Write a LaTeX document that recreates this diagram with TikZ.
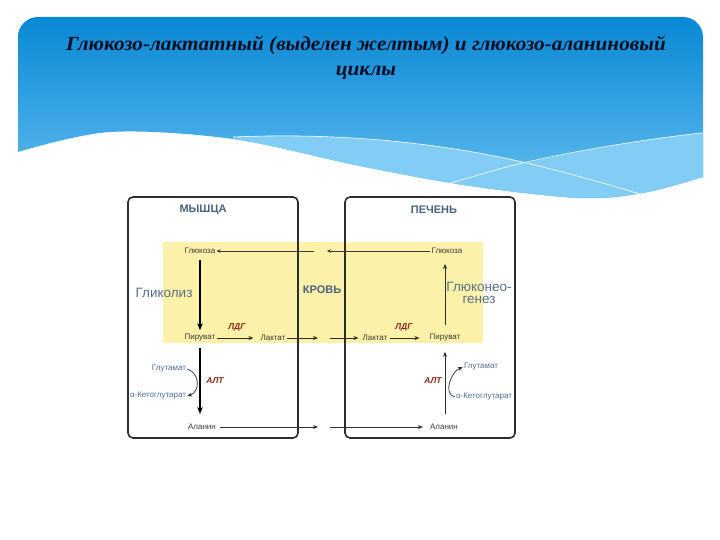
\documentclass[tikz,border=0pt]{standalone}
\usepackage{fontspec}
\setmainfont{Liberation Serif}
\newfontfamily\lsans{Liberation Sans}
\usetikzlibrary{arrows.meta}
\definecolor{blueTop}{RGB}{8,136,212}
\definecolor{blueBot}{RGB}{100,190,240}
\definecolor{bandBlue}{RGB}{130,205,246}
\definecolor{paleYel}{RGB}{251,241,168}
\definecolor{boxGray}{RGB}{45,45,45}
\definecolor{labGray}{RGB}{60,60,60}
\definecolor{labBlue}{RGB}{80,110,150}
\definecolor{hdrBlue}{RGB}{75,98,128}
\definecolor{procBlue}{RGB}{90,110,135}
\definecolor{enzRed}{RGB}{140,40,20}
\definecolor{titleCol}{RGB}{10,15,35}
\begin{document}
\begin{tikzpicture}[x=1pt,y=-1pt,
  lbl/.style={font=\lsans\fontsize{8}{9}\selectfont, text=labGray, inner sep=1pt},
  bluelbl/.style={font=\lsans\fontsize{8}{9}\selectfont, text=labBlue, inner sep=1pt},
  enz/.style={font=\lsans\bfseries\itshape\fontsize{8.5}{10}\selectfont, text=enzRed, inner sep=1pt},
  hdr/.style={font=\lsans\bfseries\fontsize{11}{12}\selectfont, text=hdrBlue, inner sep=1pt},
  proc/.style={font=\lsans\fontsize{13.5}{12.5}\selectfont, text=procBlue, inner sep=1pt, align=center},
  thinarr/.style={draw=labGray, line width=0.5pt, -{Stealth[length=4pt,width=3.5pt]}},
  medarr/.style={draw=boxGray, line width=0.8pt, -{Stealth[length=5pt,width=4pt]}},
  thickarr/.style={draw=black, line width=1.4pt, -{Stealth[length=7pt,width=5.5pt]}},
  cellbox/.style={draw=boxGray, line width=1.6pt, rounded corners=5pt},
  titlefont/.style={font=\bfseries\itshape\fontsize{20}{24}\selectfont, text=titleCol}
]
\useasboundingbox (0,0) rectangle (720,540);
\fill[white] (0,0) rectangle (720,540);
% header
\def\hdrpath{(18,152) -- (18,60) [rounded corners=20pt] -- (18,17) -- (703,17) -- (703,60) [sharp corners] -- (703,177) -- plot[smooth,tension=0.55] coordinates {(703,177) (643,193) (580,198) (470,186) (360,166) (233,139) (110,132) (18,152)} -- cycle}
\shade[top color=blueTop, bottom color=blueBot] \hdrpath;
\begin{scope}
  \clip \hdrpath;
  \fill[bandBlue] (233,137) .. controls (350,132) and (450,145) .. (527,163) .. controls (580,150) and (650,138) .. (720,131) -- (720,230) -- (233,230) -- cycle;
  \draw[white, line width=0.6pt] (233,137) .. controls (350,132) and (450,145) .. (527,163) .. controls (580,176) and (620,188) .. (650,197);
  \draw[white, line width=0.6pt] (440,186) .. controls (480,175) and (500,168) .. (527,162) .. controls (580,150) and (650,138) .. (720,131);
\end{scope}
\node[titlefont] (t1) at (366,45) {\scalebox{1.06}[1]{Глюкозо-лактатный (выделен желтым) и глюкозо-аланиновый}};
\node[titlefont] (t2) at (366,73) {\scalebox{1.06}[1]{циклы}};
% yellow blood band
\fill[paleYel] (163,242) rectangle (483,343);
% cells
\draw[cellbox] (128,197) rectangle (298,438);
\draw[cellbox] (345,197) rectangle (515,438);
\node[hdr] (mus) at (203,210) {МЫШЦА};
\node[hdr] (liv) at (434,210) {ПЕЧЕНЬ};
\node[hdr] (blood) at (322,290) {КРОВЬ};
\node[proc] (glyc) at (164,293) {Гликолиз};
\node[proc] (gng) at (479,293) {Глюконео-\\генез};
% metabolites
\node[lbl] (gl1) at (200,251) {Глюкоза};
\node[lbl] (pyr1) at (200,338) {Пируват};
\node[lbl] (lac1) at (273,338) {Лактат};
\node[lbl] (ala1) at (202,427) {Аланин};
\node[bluelbl] (glu1) at (169,369) {Глутамат};
\node[bluelbl] (kg1) at (158,396) {α-Кетоглутарат};
\node[lbl] (gl2) at (447,251) {Глюкоза};
\node[lbl] (pyr2) at (445,338) {Пируват};
\node[lbl] (lac2) at (375,338) {Лактат};
\node[lbl] (ala2) at (444,427) {Аланин};
\node[bluelbl] (glu2) at (481,367) {Глутамат};
\node[bluelbl] (kg2) at (484,397) {α-Кетоглутарат};
% enzymes
\node[enz] (ldg1) at (237,327) {ЛДГ};
\node[enz] (ldg2) at (404,327) {ЛДГ};
\node[enz] (alt1) at (215,381) {АЛТ};
\node[enz] (alt2) at (433,381) {АЛТ};
% free ends
\coordinate (gmid1) at (327,251);
\coordinate (gmid2) at (314,251);
\coordinate (lmid1) at (318,338);
\coordinate (lmid2) at (330,338);
\coordinate (amid1) at (318,427);
\coordinate (amid2) at (330,427);
% glucose transport
\draw[thinarr] (gl2.west) -- (gmid1);
\draw[thinarr] (gmid2) -- (gl1.east);
% glycolysis / gluconeogenesis
\draw[thickarr, shorten <=5pt, shorten >=3pt] (gl1.south) -- (pyr1.north);
\draw[medarr, shorten <=8pt, shorten >=9pt] (pyr2.north) -- (pyr2.north |- gl2.south);
% LDH
\draw[medarr, shorten >=6pt] (pyr1.east) -- (lac1.west);
\draw[medarr, shorten <=1pt, shorten >=9pt] (lac2.east) -- (pyr2.west);
% lactate transport
\draw[medarr] (lac1.east) -- (lmid1);
\draw[medarr, shorten >=3pt] (lmid2) -- (lac2.west);
% ALT
\draw[thickarr, shorten <=5pt, shorten >=9pt] (pyr1.south) -- (pyr1.south |- ala1.north);
\draw[medarr, shorten <=9pt, shorten >=9pt] (pyr2.south |- ala2.north) -- (pyr2.south);
\draw[medarr, line width=0.7pt] (glu1.east) .. controls +(13,4) and +(13,-4) .. (kg1.east);
\draw[medarr, line width=0.7pt] (kg2.west) .. controls +(-12,-3) and +(-12,5) .. (glu2.west);
% alanine transport
\draw[medarr, shorten <=3pt] (ala1.east) -- (amid1);
\draw[medarr, shorten >=6pt] (amid2) -- (ala2.west);
\end{tikzpicture}
\end{document}
